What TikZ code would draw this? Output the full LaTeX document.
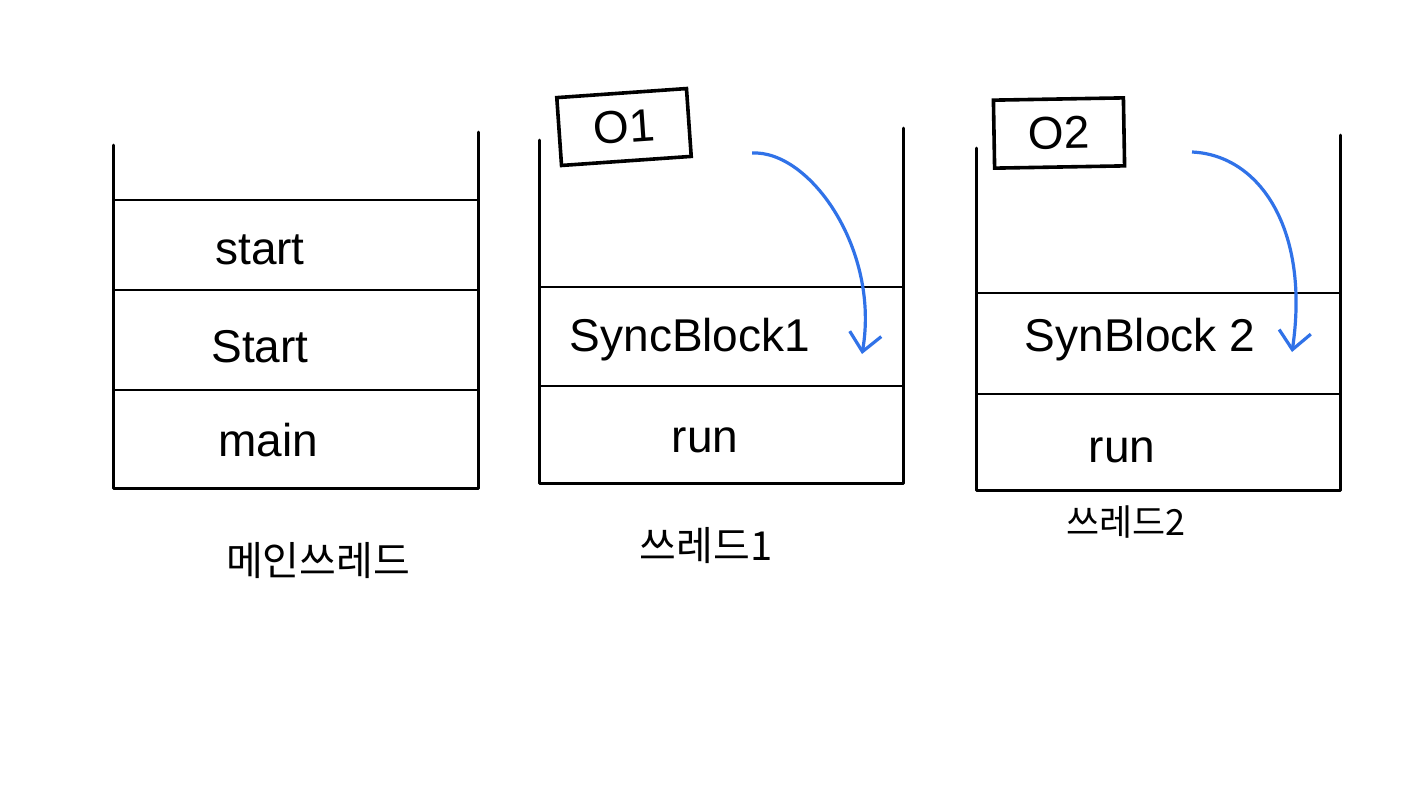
\documentclass[tikz,border=0pt]{standalone}
\usepackage{fontspec}
\setmainfont{Liberation Sans}
\newfontfamily\krfont{Noto Sans CJK KR}
\usetikzlibrary{arrows.meta}
\definecolor{penblue}{RGB}{48,114,232}
\begin{document}
\begin{tikzpicture}[x=0.5pt,y=-0.5pt,
  wall/.style={line width=1.5pt,line cap=round,line join=round},
  sep/.style={line width=1.2pt},
  lbl/.style={font=\fontsize{23}{25}\selectfont,inner sep=0pt},
  klbl/.style={font=\krfont\fontsize{20}{22}\selectfont,inner sep=0pt},
  objbox/.style={draw,line width=1.8pt,minimum width=65pt,minimum height=34pt,inner sep=0pt,font=\fontsize{23}{25}\selectfont},
  flow/.style={draw=penblue,line width=1.6pt,-{Straight Barb[length=9pt,width=16pt,line width=1.6pt]}}]
\useasboundingbox (0,0) rectangle (1422,784);
\fill[white] (0,0) rectangle (1422,784);
% stack 1
\draw[wall] (113,145) -- (113,488) -- (478,488) -- (478,132);
\draw[sep] (113,200) -- (478,200);
\draw[sep] (113,290) -- (478,290);
\draw[sep] (113,390) -- (478,390);
\node[lbl] (s1a) at (260,250) {start};
\node[lbl] (s1b) at (260,347) {Start};
\node[lbl] (s1c) at (268,440) {main};
\node[klbl] (k1) at (318,560) {메인쓰레드};
% stack 2
\draw[wall] (539,140) -- (539,483) -- (903,483) -- (903,128);
\draw[sep] (539,287) -- (903,287);
\draw[sep] (539,386) -- (903,386);
\node[lbl] (s2a) at (690,340) {SyncBlock1};
\node[lbl] (s2b) at (705,440) {run};
\node[klbl] (k2) at (706,545) {쓰레드1};
\node[objbox,rotate=4] (o1) at (624,127) {O1};
\coordinate (a1s) at (752,153);
\coordinate (a1e) at (862,354);
\draw[flow] (a1s) .. controls (810,150) and (880,250) .. (a1e);
% stack 3
\draw[wall] (976,148) -- (976,490) -- (1340,490) -- (1340,135);
\draw[sep] (976,293) -- (1340,293);
\draw[sep] (976,394) -- (1340,394);
\node[lbl] (s3a) at (1140,340) {SynBlock 2};
\node[lbl] (s3b) at (1122,450) {run};
\node[klbl,font=\krfont\fontsize{18}{20}\selectfont] (k3) at (1126,522) {쓰레드2};
\node[objbox,rotate=1] (o2) at (1059,133) {O2};
\coordinate (a2s) at (1192,152);
\coordinate (a2e) at (1292,352);
\draw[flow] (a2s) .. controls (1260,155) and (1310,230) .. (a2e);
\end{tikzpicture}
\end{document}
